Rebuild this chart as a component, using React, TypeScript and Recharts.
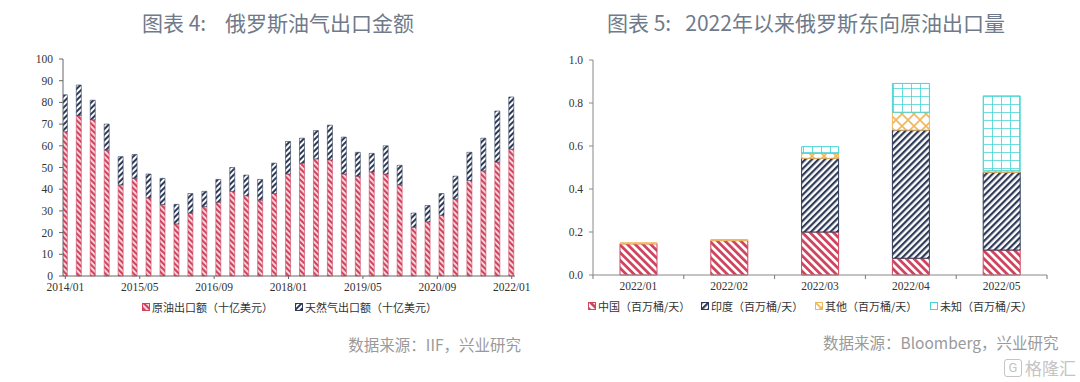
import React from "react";
import { BarChart, Bar, XAxis, YAxis } from "recharts";

// 图表4: quarterly values, bn USD (month offset from 2014/01)
const quarterMonths = Array.from({ length: 33 }, (_, i) => i * 3);
const crudeExport = [
  66.5, 74, 72, 58, 42, 45, 36, 33, 24, 29, 32, 34, 39, 37, 35, 38, 47, 52, 54,
  53.5, 47, 46, 48, 47, 42, 22.5, 25, 28, 35.5, 44, 48.5, 52.5, 58.5,
];
const gasExport = [
  17, 14, 9, 12, 13, 11, 11, 12, 9, 9, 7, 10.5, 11, 9.5, 9.5, 14, 15, 11.5, 13,
  16, 17, 11, 8.5, 13, 9, 6.5, 7.5, 10, 10.5, 13, 15, 23.5, 24,
];
const leftTickMonths = [0, 16, 32, 48, 64, 80, 96];
const leftTickLabels = ["2014/01", "2015/05", "2016/09", "2018/01", "2019/05", "2020/09", "2022/01"];
const leftYTicks = [0, 10, 20, 30, 40, 50, 60, 70, 80, 90, 100];

// 图表5: million barrels / day
const months = ["2022/01", "2022/02", "2022/03", "2022/04", "2022/05"];
const china = [0.145, 0.16, 0.2, 0.078, 0.116];
const india = [0, 0, 0.343, 0.596, 0.362];
const others = [0.005, 0.005, 0.023, 0.083, 0.007];
const unknown = [0, 0, 0.031, 0.134, 0.348];
const rightYTicks = [0, 0.2, 0.4, 0.6, 0.8, 1.0];

const leftData = quarterMonths.map((m, i) => ({ m, crude: crudeExport[i], gas: gasExport[i] }));
const rightData = months.map((month, i) => ({
  month,
  china: china[i],
  india: india[i],
  others: others[i],
  unknown: unknown[i],
}));

const RED = "#cf4560";
const NAVY = "#2e3a57";
const YELLOW = "#efb75c";
const CYAN = "#45d3d3";

const tickStyle = { fontFamily: '"Liberation Serif", serif', fontSize: 11.5, fill: "#333" };
const cjk = '"Noto Sans CJK SC", sans-serif';

const RIGHT_PLOT_W = 454;

const MonthTick = (props: any) => {
  const { x, y, payload, index } = props;
  const half = RIGHT_PLOT_W / months.length / 2;
  return (
    <g>
      <line x1={x - half} x2={x - half} y1={y} y2={y + 4} stroke="#777" />
      {index === months.length - 1 && (
        <line x1={x + half} x2={x + half} y1={y} y2={y + 4} stroke="#777" />
      )}
      <text x={x} y={y + 15} textAnchor="middle" {...tickStyle}>
        {payload.value}
      </text>
    </g>
  );
};

const Swatch = ({ fill, stroke }: { fill: string; stroke: string }) => (
  <svg width={8} height={8} style={{ marginRight: 2 }}>
    <rect x={0.5} y={0.5} width={7} height={7} fill={fill} stroke={stroke} strokeWidth={1} />
  </svg>
);

const legendItem = (x: number, fill: string, stroke: string, label: string) => (
  <div
    key={label}
    style={{
      position: "absolute",
      left: x,
      top: 0,
      display: "flex",
      alignItems: "center",
      whiteSpace: "nowrap",
    }}
  >
    <Swatch fill={fill} stroke={stroke} />
    <span>{label}</span>
  </div>
);

const titleStyle: React.CSSProperties = {
  position: "absolute",
  top: 9,
  fontFamily: cjk,
  fontSize: 21,
  color: "#6f7a8a",
  whiteSpace: "pre",
  lineHeight: "26px",
};

const sourceStyle: React.CSSProperties = {
  position: "absolute",
  fontFamily: cjk,
  fontSize: 15.5,
  color: "#9a9a9a",
  whiteSpace: "nowrap",
};

export default function App() {
  return (
    <div
      style={{
        position: "absolute",
        left: 0,
        top: 0,
        width: 1080,
        height: 382,
        background: "#fff",
        overflow: "hidden",
      }}
    >
      {/* shared fill patterns */}
      <svg width={0} height={0} style={{ position: "absolute" }}>
        <defs>
          <pattern id="crudeL" patternUnits="userSpaceOnUse" width={4} height={4} patternTransform="rotate(-45)">
            <rect width={4} height={4} fill="#fbe3e8" />
            <rect width={2.2} height={4} fill={RED} />
          </pattern>
          <pattern id="gasL" patternUnits="userSpaceOnUse" width={4} height={4} patternTransform="rotate(45)">
            <rect width={4} height={4} fill="#fff" />
            <rect width={2} height={4} fill={NAVY} />
          </pattern>
          <pattern id="chinaP" patternUnits="userSpaceOnUse" width={5.5} height={5.5} patternTransform="rotate(-45)">
            <rect width={5.5} height={5.5} fill="#fff" />
            <rect width={2.8} height={5.5} fill={RED} />
          </pattern>
          <pattern id="indiaP" patternUnits="userSpaceOnUse" width={4.6} height={4.6} patternTransform="rotate(45)">
            <rect width={4.6} height={4.6} fill="#fff" />
            <rect width={2.2} height={4.6} fill={NAVY} />
          </pattern>
          <pattern id="otherP" patternUnits="userSpaceOnUse" width={12} height={12}>
            <rect width={12} height={12} fill="#fff" />
            <path d="M0 0 L12 12 M12 0 L0 12" stroke={YELLOW} strokeWidth={1.6} />
          </pattern>
          <pattern id="unknownP" patternUnits="userSpaceOnUse" width={9} height={8}>
            <rect width={9} height={8} fill="#fff" />
            <path d="M0 0 L9 0 M0 0 L0 8" stroke={CYAN} strokeWidth={1.6} />
          </pattern>
        </defs>
      </svg>

      {/* titles */}
      <div style={{ ...titleStyle, left: 142 }}>{"图表 4:    俄罗斯油气出口金额"}</div>
      <div style={{ ...titleStyle, left: 607 }}>{"图表 5:   2022年以来俄罗斯东向原油出口量"}</div>

      {/* left chart */}
      <div style={{ position: "absolute", left: 0, top: 0 }}>
        <BarChart width={540} height={300} data={leftData} margin={{ top: 59, right: 25, bottom: 4, left: 0 }} barSize={5}>
          <XAxis
            type="number"
            dataKey="m"
            domain={[-0.5, 96.7]}
            ticks={leftTickMonths}
            interval={0}
            tickFormatter={(v: number) => leftTickLabels[leftTickMonths.indexOf(v)] ?? ""}
            tick={tickStyle}
            stroke="#666"
            tickSize={3}
            tickMargin={4}
            height={20}
            allowDataOverflow
          />
          <YAxis
            type="number"
            domain={[0, 100]}
            ticks={leftYTicks}
            interval={0}
            tick={tickStyle}
            stroke="#666"
            width={63}
            tickSize={4}
            tickMargin={6}
          />
          <Bar dataKey="crude" stackId="a" fill="url(#crudeL)" stroke={RED} strokeWidth={0.6} isAnimationActive={false} />
          <Bar dataKey="gas" stackId="a" fill="url(#gasL)" stroke={NAVY} strokeWidth={0.6} isAnimationActive={false} />
        </BarChart>
      </div>
      <div
        style={{
          position: "absolute",
          left: 0,
          top: 299,
          height: 16,
          width: 540,
          fontFamily: cjk,
          fontSize: 11,
          color: "#333",
        }}
      >
        {legendItem(142, "url(#crudeL)", RED, "原油出口额（十亿美元）")}
        {legendItem(295, "url(#gasL)", NAVY, "天然气出口额（十亿美元）")}
      </div>

      {/* right chart */}
      <div style={{ position: "absolute", left: 560, top: 0 }}>
        <BarChart width={500} height={300} data={rightData} margin={{ top: 60, right: 13, bottom: 5, left: 0 }} barSize={37}>
          <XAxis
            dataKey="month"
            tick={<MonthTick />}
            tickLine={false}
            tickSize={0}
            tickMargin={0}
            stroke="#888"
            height={20}
            interval={0}
          />
          <YAxis
            type="number"
            domain={[0, 1]}
            ticks={rightYTicks}
            interval={0}
            tickFormatter={(v: number) => v.toFixed(1)}
            tick={tickStyle}
            stroke="#888"
            width={33}
            tickSize={4}
            tickMargin={6}
          />
          <Bar dataKey="china" stackId="b" fill="url(#chinaP)" stroke={RED} strokeWidth={1} isAnimationActive={false} />
          <Bar dataKey="india" stackId="b" fill="url(#indiaP)" stroke={NAVY} strokeWidth={1} isAnimationActive={false} />
          <Bar dataKey="others" stackId="b" fill="url(#otherP)" stroke={YELLOW} strokeWidth={1} isAnimationActive={false} />
          <Bar dataKey="unknown" stackId="b" fill="url(#unknownP)" stroke={CYAN} strokeWidth={1} isAnimationActive={false} />
        </BarChart>
      </div>
      <div
        style={{
          position: "absolute",
          left: 0,
          top: 298,
          height: 16,
          width: 1080,
          fontFamily: cjk,
          fontSize: 11,
          color: "#333",
        }}
      >
        {legendItem(588, "url(#chinaP)", RED, "中国（百万桶/天）")}
        {legendItem(701, "url(#indiaP)", NAVY, "印度（百万桶/天）")}
        {legendItem(815, "url(#otherP)", YELLOW, "其他（百万桶/天）")}
        {legendItem(930, "url(#unknownP)", CYAN, "未知（百万桶/天）")}
      </div>

      {/* sources */}
      <div style={{ ...sourceStyle, right: 1080 - 521, top: 333 }}>数据来源：IIF，兴业研究</div>
      <div style={{ ...sourceStyle, left: 823, top: 331 }}>数据来源：Bloomberg，兴业研究</div>
      <div
        style={{
          position: "absolute",
          left: 1004,
          top: 355,
          fontFamily: cjk,
          fontSize: 17,
          color: "#c4c4c4",
          whiteSpace: "nowrap",
          display: "flex",
          alignItems: "center",
        }}
      >
        <span
          style={{
            border: "1.5px solid #c4c4c4",
            borderRadius: 3,
            width: 16,
            height: 16,
            lineHeight: "16px",
            fontSize: 13,
            textAlign: "center",
            marginRight: 3,
            fontFamily: "Roboto, sans-serif",
          }}
        >
          G
        </span>
        格隆汇
      </div>
    </div>
  );
}
